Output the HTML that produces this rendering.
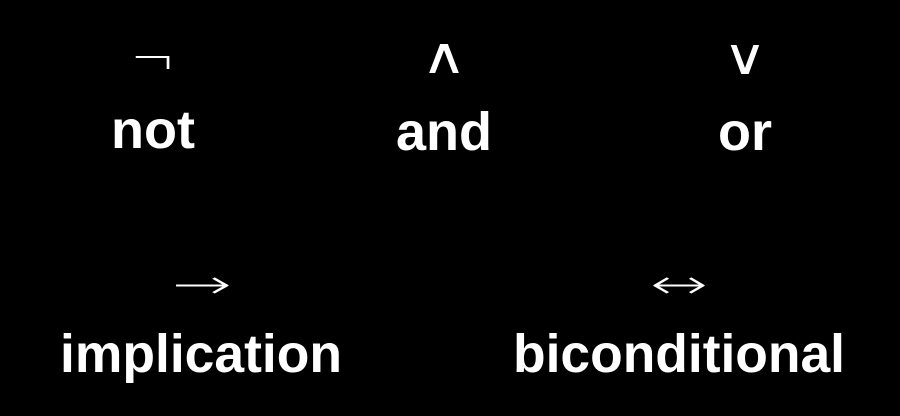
<!DOCTYPE html>
<html><head><meta charset="utf-8"><style>
html,body{margin:0;padding:0;background:#000;}
svg{display:block}
.w{font-family:"Liberation Sans",sans-serif;font-weight:bold;font-size:54px;fill:#fff;}
.s{font-family:"DejaVu Sans",sans-serif;font-weight:200;fill:#fff;}
</style></head><body>
<svg width="900" height="416" viewBox="0 0 900 416">
<rect width="900" height="416" fill="#000"/>
<g transform="translate(153 0) scale(1.1 1)"><text class="s" x="0" y="76" font-size="50" text-anchor="middle">¬</text></g>
<text class="w" x="153" y="148" text-anchor="middle" textLength="84" lengthAdjust="spacingAndGlyphs">not</text>
<g transform="translate(444 0) scale(1.25 1)"><text class="s" x="0" y="73" font-size="50" text-anchor="middle">∧</text></g>
<text class="w" x="444" y="150" text-anchor="middle">and</text>
<g transform="translate(745 0) scale(1.2 1)"><text class="s" x="0" y="74" font-size="50" text-anchor="middle">∨</text></g>
<text class="w" x="745" y="150" text-anchor="middle">or</text>
<text class="s" x="202" y="298" font-size="40" text-anchor="middle" textLength="60" lengthAdjust="spacingAndGlyphs">→</text>
<text class="w" x="201" y="372" text-anchor="middle" textLength="282" lengthAdjust="spacingAndGlyphs">implication</text>
<text class="s" x="679" y="298" font-size="40" text-anchor="middle" textLength="58" lengthAdjust="spacingAndGlyphs">↔</text>
<text class="w" x="679" y="372" text-anchor="middle" textLength="332" lengthAdjust="spacingAndGlyphs">biconditional</text>
</svg>
</body></html>
